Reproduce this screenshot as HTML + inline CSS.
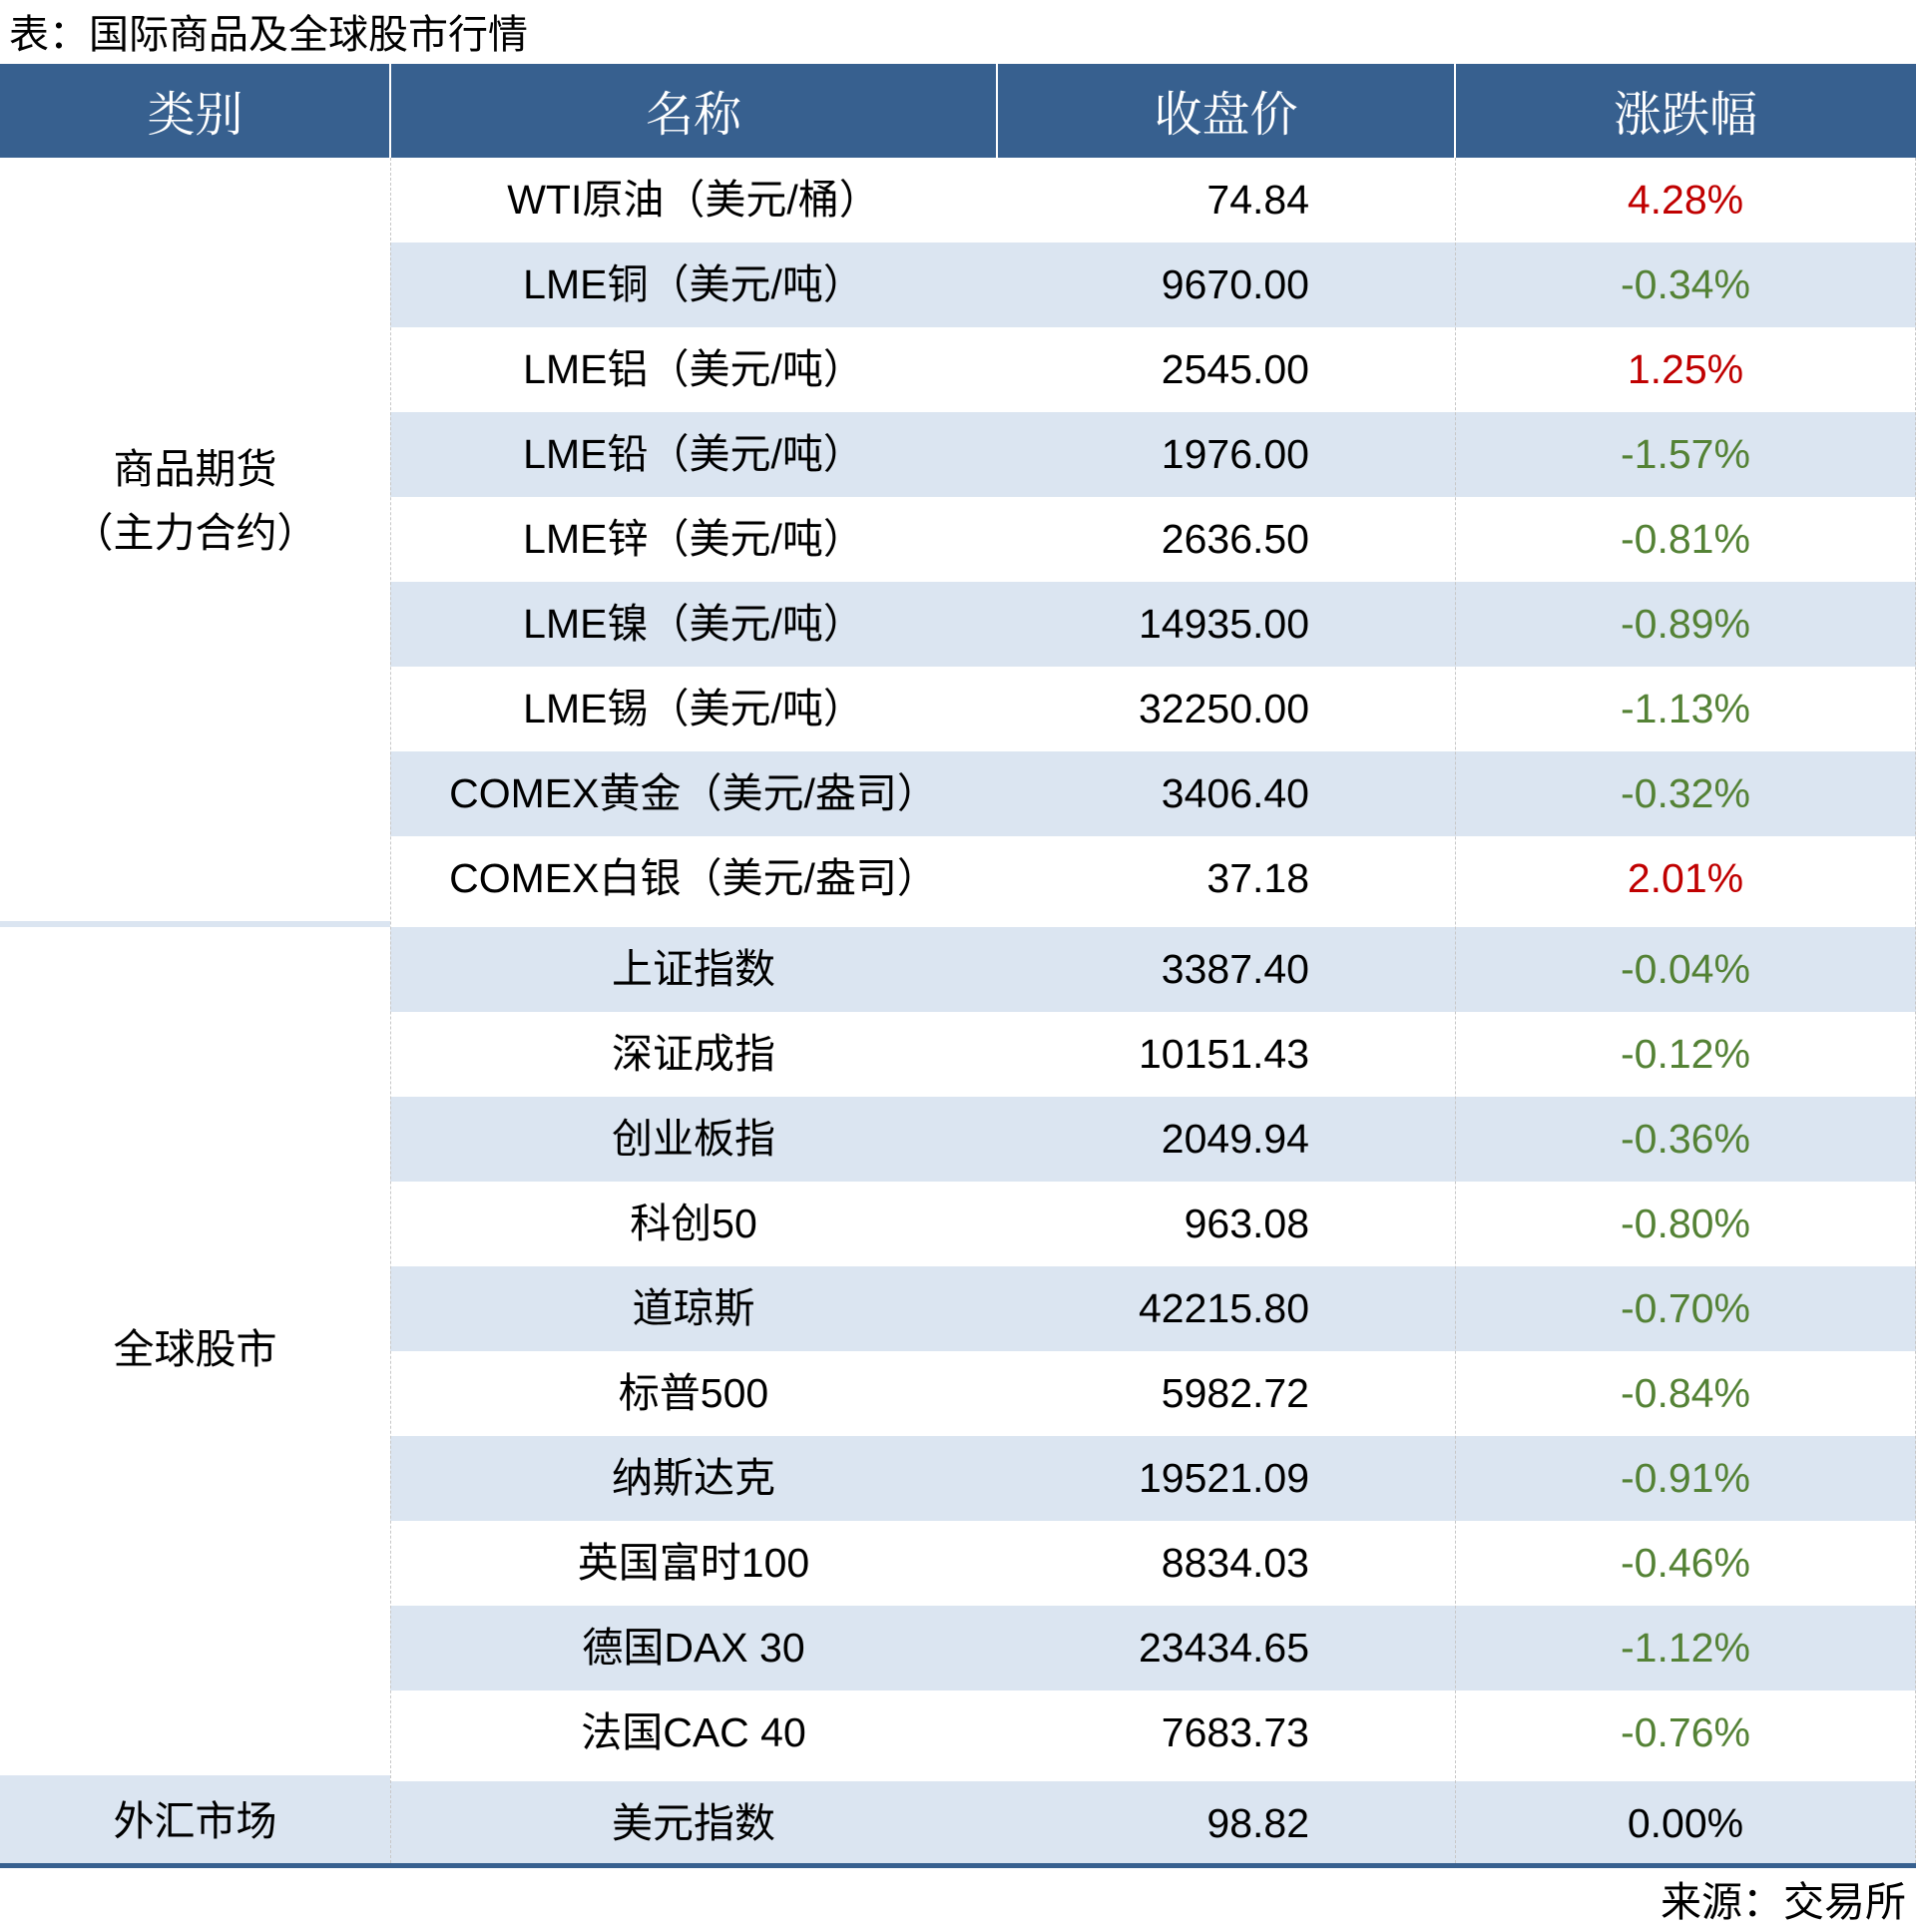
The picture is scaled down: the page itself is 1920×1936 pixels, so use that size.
<!DOCTYPE html>
<html><head><meta charset="utf-8"><style>
*{margin:0;padding:0;box-sizing:border-box}
body{width:1920px;height:1936px;background:#fff;position:relative;overflow:hidden;font-family:"Liberation Sans","Noto Sans CJK SC",sans-serif;color:#000}
.a{position:absolute}
.t{position:absolute;white-space:nowrap;font-size:41px;line-height:85px;height:85px}
.h{position:absolute;top:64px;height:94px;line-height:94px;color:#fff;font-family:"Noto Serif CJK SC",serif;font-size:48px;text-align:center}
.r{color:#c00000}.g{color:#548235}
</style></head><body>
<div class="a" style="left:9px;top:6px;font-size:40px;line-height:50px;font-family:'Noto Sans CJK SC',sans-serif">表：国际商品及全球股市行情</div>
<div class="a" style="left:0;top:64px;width:1920px;height:94px;background:#37608f"></div>
<div class="a" style="left:390px;top:64px;width:2px;height:94px;background:#fff"></div>
<div class="a" style="left:998px;top:64px;width:2px;height:94px;background:#fff"></div>
<div class="a" style="left:1457px;top:64px;width:2px;height:94px;background:#fff"></div>
<div class="h" style="left:0;width:391px">类别</div>
<div class="h" style="left:391px;width:608px">名称</div>
<div class="h" style="left:999px;width:459px">收盘价</div>
<div class="h" style="left:1458px;width:462px">涨跌幅</div>
<div id="rows"></div>
<script>
var d=[["WTI原油（美元/桶）","74.84","4.28%","r"],["LME铜（美元/吨）","9670.00","-0.34%","g"],["LME铝（美元/吨）","2545.00","1.25%","r"],["LME铅（美元/吨）","1976.00","-1.57%","g"],["LME锌（美元/吨）","2636.50","-0.81%","g"],["LME镍（美元/吨）","14935.00","-0.89%","g"],["LME锡（美元/吨）","32250.00","-1.13%","g"],["COMEX黄金（美元/盎司）","3406.40","-0.32%","g"],["COMEX白银（美元/盎司）","37.18","2.01%","r"],
["上证指数","3387.40","-0.04%","g"],["深证成指","10151.43","-0.12%","g"],["创业板指","2049.94","-0.36%","g"],["科创50","963.08","-0.80%","g"],["道琼斯","42215.80","-0.70%","g"],["标普500","5982.72","-0.84%","g"],["纳斯达克","19521.09","-0.91%","g"],["英国富时100","8834.03","-0.46%","g"],["德国DAX 30","23434.65","-1.12%","g"],["法国CAC 40","7683.73","-0.76%","g"],
["美元指数","98.82","0.00%",""]];
var h="";
for(var i=0;i<d.length;i++){
 var y=i<9?158+i*85:(i<19?929+(i-9)*85:1785);
 var hh=i==19?82:85;
 var blue=(i<9?i%2==1:(i<19?(i-9)%2==0:true));
 if(blue)h+='<div class="a" style="left:'+(i==19?0:391)+'px;top:'+y+'px;width:'+(i==19?1920:1529)+'px;height:'+hh+'px;background:#dbe5f1"></div>';
 h+='<div class="t" style="left:391px;width:608px;top:'+y+'px;text-align:center">'+d[i][0]+'</div>';
 h+='<div class="t" style="left:999px;width:313px;top:'+y+'px;text-align:right">'+d[i][1]+'</div>';
 h+='<div class="t '+d[i][3]+'" style="left:1458px;width:462px;top:'+y+'px;text-align:center">'+d[i][2]+'</div>';
}
h+='<div class="a" style="left:0;top:923px;width:391px;height:6px;background:#dbe5f1"></div>';
h+='<div class="a" style="left:0;top:1779px;width:391px;height:6px;background:#dbe5f1"></div>';
h+='<div class="a" style="left:391px;top:158px;width:0;height:1709px;border-left:1px dashed #c8c8c8"></div>';
h+='<div class="a" style="left:1458px;top:158px;width:0;height:1709px;border-left:1px dashed #c8c8c8"></div>';
h+='<div class="a" style="left:1919px;top:158px;width:0;height:1709px;border-left:1px dashed #c8c8c8"></div>';
h+='<div class="a" style="left:0;top:1867px;width:1920px;height:5px;background:#37608f"></div>';
document.getElementById("rows").innerHTML=h;
</script>
<div class="a" style="left:0;width:391px;top:438px;text-align:center;font-size:41px;line-height:64px">商品期货<br>（主力合约）</div>
<div class="t" style="left:0;width:391px;top:1310px;text-align:center">全球股市</div>
<div class="t" style="left:0;width:391px;top:1783px;text-align:center">外汇市场</div>
<div class="a" style="right:10px;top:1876px;font-size:41px;line-height:52px;font-family:'Noto Sans CJK SC',sans-serif">来源：交易所</div>
</body></html>
